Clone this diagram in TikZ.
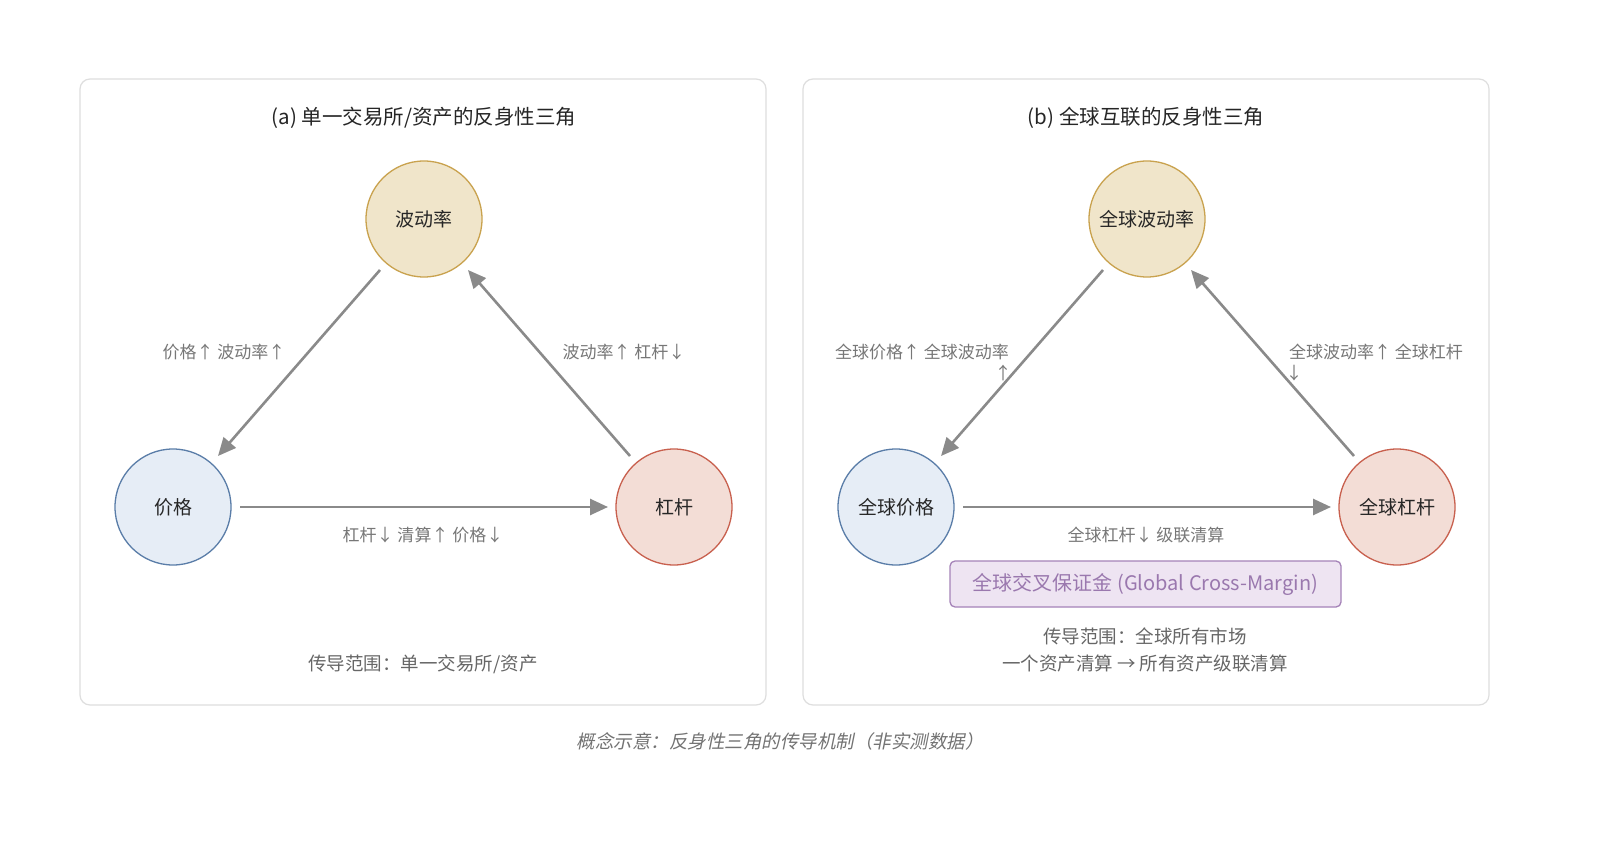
\documentclass[tikz,border=0pt]{standalone}
\usepackage{fontspec}
\setmainfont{Noto Sans CJK SC}
\newfontfamily\capfont[FakeSlant=0.2]{Noto Sans CJK SC}
\usetikzlibrary{arrows.meta}
\definecolor{panelb}{HTML}{DEDEDE}
\definecolor{arr}{HTML}{8A8A8A}
\definecolor{lab}{HTML}{777777}
\definecolor{vf}{HTML}{F0E5CA}\definecolor{vs}{HTML}{C9A24E}
\definecolor{pf}{HTML}{E6EDF6}\definecolor{ps}{HTML}{5A7DA8}
\definecolor{lf}{HTML}{F3DDD6}\definecolor{ls}{HTML}{C8604E}
\definecolor{mf}{HTML}{EEE4F2}\definecolor{ms}{HTML}{A583B8}\definecolor{mt}{HTML}{9A78AE}
\begin{document}
\begin{tikzpicture}[x=1pt,y=-1pt,
 panel/.style={draw=panelb,line width=1.2pt,rounded corners=10pt,fill=white},
 circ/.style={circle,minimum size=116pt,inner sep=0pt,line width=1.3pt,font=\fontsize{19}{21}\selectfont,text=black!85},
 vol/.style={circ,fill=vf,draw=vs},pri/.style={circ,fill=pf,draw=ps},lev/.style={circ,fill=lf,draw=ls},
 ar/.style={draw=arr,line width=2.6pt,-{Triangle[length=18pt,width=16pt]}},
 lbl/.style={text=lab,font=\fontsize{17}{19}\selectfont,align=center},
 ttl/.style={text=black!85,font=\fontsize{20.5}{22}\selectfont},
 foot/.style={text=black!60,font=\fontsize{18.5}{27}\selectfont,align=center}]
\useasboundingbox (0,0) rectangle (1600,858);
\fill[white] (0,0) rectangle (1600,858);
\draw[panel] (80,79) rectangle (766,705);
\draw[panel] (803,79) rectangle (1489,705);
% left
\node[ttl] (ta) at (424,118) {(a) 单一交易所/资产的反身性三角};
\node[vol] (v1) at (424,219) {波动率};
\node[pri] (p1) at (173,507) {价格};
\node[lev] (l1) at (674,507) {杠杆};
\coordinate (a1s) at (380,270); \coordinate (a1e) at (218,456);
\coordinate (a2s) at (240,507); \coordinate (a2e) at (608,507);
\coordinate (a3s) at (630,456); \coordinate (a3e) at (468,270);
\draw[ar] (a1s) -- (a1e);
\draw[ar] (a2s) -- (a2e);
\draw[ar] (a3s) -- (a3e);
\node[lbl] (la1) at (224,352) {价格↑ 波动率↑};
\node[lbl] (la2) at (624,352) {波动率↑ 杠杆↓};
\node[lbl] (la3) at (423,535) {杠杆↓ 清算↑ 价格↓};
\node[foot] (fa) at (423,664) {传导范围：单一交易所/资产};
% right
\node[ttl] (tb) at (1146,118) {(b) 全球互联的反身性三角};
\node[vol] (v2) at (1147,219) {全球波动率};
\node[pri] (p2) at (896,507) {全球价格};
\node[lev] (l2) at (1397,507) {全球杠杆};
\coordinate (b1s) at (1103,270); \coordinate (b1e) at (941,456);
\coordinate (b2s) at (963,507); \coordinate (b2e) at (1331,507);
\coordinate (b3s) at (1354,456); \coordinate (b3e) at (1191,270);
\draw[ar] (b1s) -- (b1e);
\draw[ar] (b2s) -- (b2e);
\draw[ar] (b3s) -- (b3e);
\node[lbl] (lb1) at (922,352) {全球价格↑ 全球波动率};
\node[lbl] (lb1b) at (1003,373) {↑};
\node[lbl] (lb2) at (1376,352) {全球波动率↑ 全球杠杆};
\node[lbl] (lb2b) at (1294,373) {↓};
\node[lbl] (lb3) at (1146,535) {全球杠杆↓ 级联清算};
\node[draw=ms,fill=mf,line width=1.3pt,rounded corners=5pt,minimum width=391pt,minimum height=46pt,text=mt,font=\fontsize{20}{22}\selectfont] (m) at (1145.5,584) {全球交叉保证金 (Global Cross-Margin)};
\node[foot] (fb) at (1145,650) {传导范围：全球所有市场\\一个资产清算 → 所有资产级联清算};
\node[text=black!55,font=\capfont\fontsize{18.5}{20}\selectfont] (cap) at (780,741) {概念示意：反身性三角的传导机制（非实测数据）};
\end{tikzpicture}
\end{document}
